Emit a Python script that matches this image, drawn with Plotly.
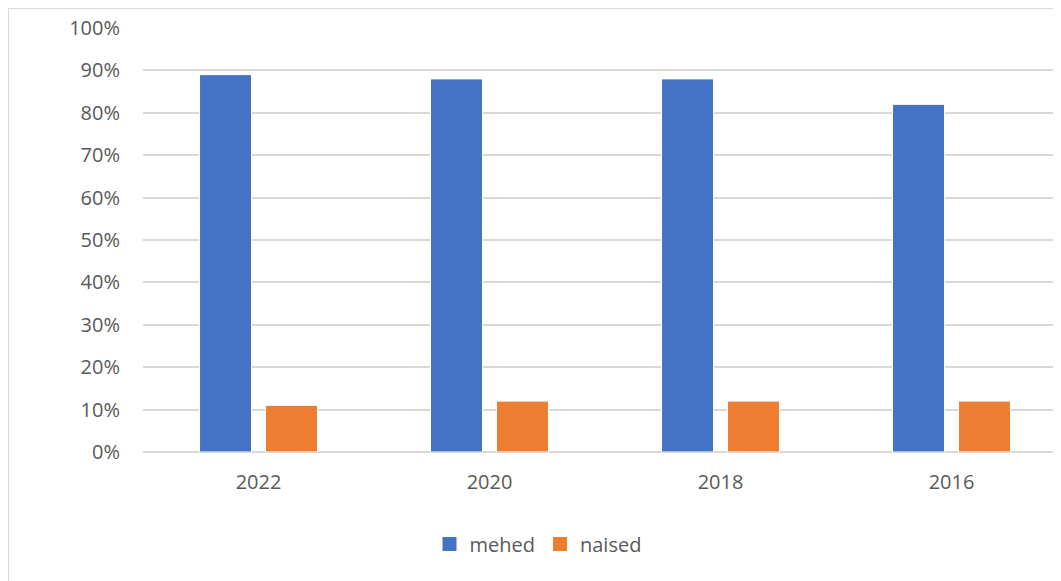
import plotly.graph_objects as go

# ── Data ──────────────────────────────────────────────────────────────────────
years = ["2022", "2020", "2018", "2016"]
mehed = [0.89, 0.88, 0.88, 0.82]
naised = [0.11, 0.12, 0.12, 0.12]

BLUE = "#4472C4"
ORANGE = "#ED7D31"
GRID = "#D9D9D9"
TEXT = "#595959"
FONT = "Open Sans, Liberation Sans, sans-serif"

# page body has an 8px margin, so the figure starts at (8, 8)
W, H = 1053, 573
L, R, T, B = 135, 0, 20, 129
pw = W - L - R
ph = H - T - B

fig = go.Figure()
for name, vals, color in [("mehed", mehed, BLUE), ("naised", naised, ORANGE)]:
    fig.add_trace(go.Bar(x=years, y=vals, name=name, showlegend=False,
                         marker=dict(color=color, line=dict(color="white", width=1))))
    # legend swatch (square like the original)
    fig.add_trace(go.Scatter(x=[None], y=[None], mode="markers", name=name,
                             marker=dict(symbol="square", size=14, color=color)))

# chart-area border (cut off at right/bottom in the original)
fig.add_shape(type="rect", xref="paper", yref="paper",
              x0=(0.5 - L) / pw, x1=(W + 20 - L) / pw,
              y0=-(B + 20) / ph, y1=(ph + T - 0.5) / ph,
              line=dict(color=GRID, width=1), layer="below")

fig.update_layout(
    width=W, height=H,
    margin=dict(l=L, r=R, t=T, b=B),
    paper_bgcolor="white", plot_bgcolor="white",
    font=dict(family=FONT, color=TEXT, size=20),
    barmode="group", bargap=0.429, bargroupgap=0.212,
    showlegend=True,
    legend=dict(orientation="h", x=(530 - L) / pw, xanchor="center",
                y=-(536 - T - ph) / ph, yanchor="middle",
                font=dict(size=20, color=TEXT), itemsizing="trace",
                traceorder="normal"),
    xaxis=dict(range=[-0.5, -0.5 + pw / 231], showgrid=False, zeroline=False,
               showline=False, ticks="", ticklabelstandoff=16,
               tickfont=dict(size=20, color=TEXT), fixedrange=True),
    yaxis=dict(range=[0, 1], dtick=0.1, tickformat=".0%", showgrid=True,
               gridcolor=GRID, gridwidth=1.5, zeroline=True, zerolinecolor=GRID,
               zerolinewidth=1.5, showline=False, ticks="", ticklabelstandoff=22,
               tickfont=dict(size=20, color=TEXT)),
)

fig.write_html("out.html")
